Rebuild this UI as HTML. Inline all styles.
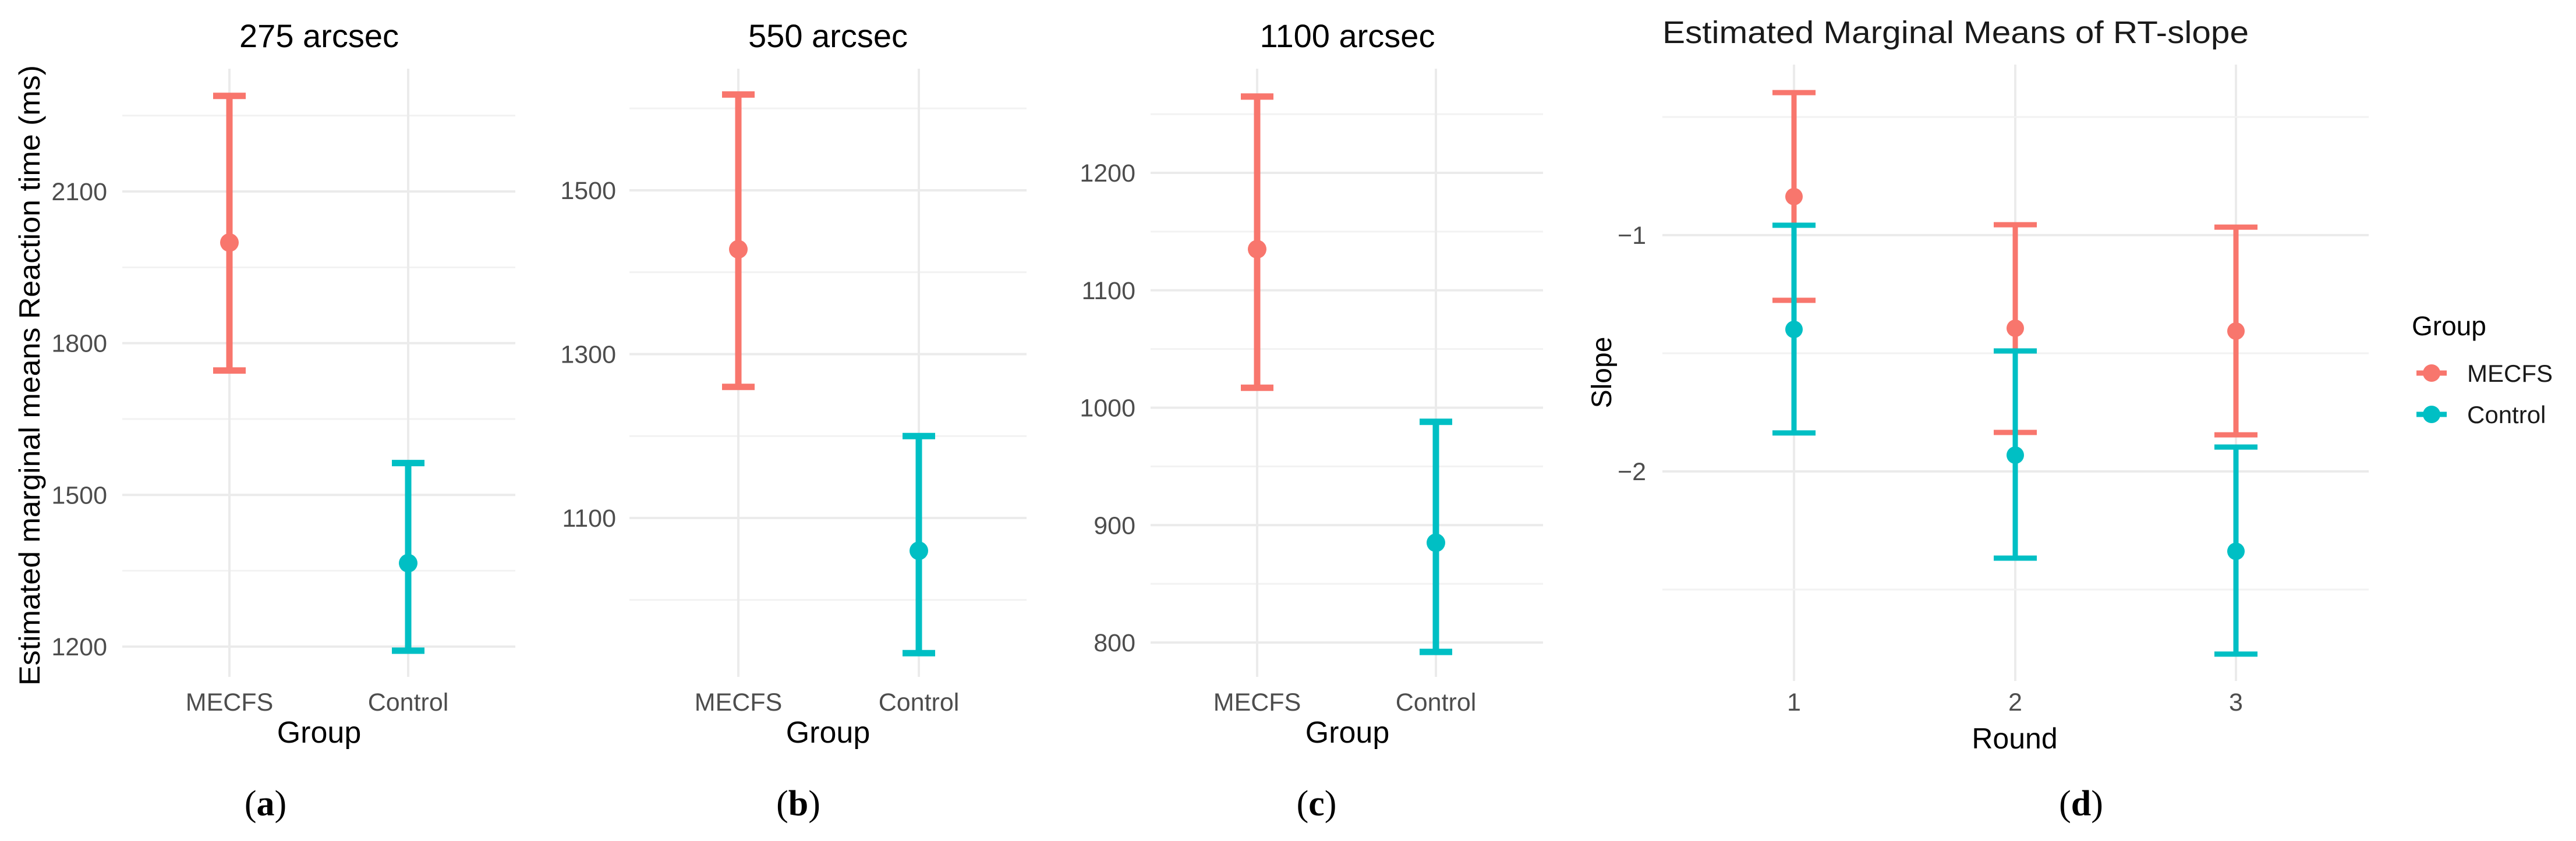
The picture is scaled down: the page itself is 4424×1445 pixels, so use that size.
<!DOCTYPE html>
<html><head><meta charset="utf-8"><style>
html,body{margin:0;padding:0;background:#fff}
svg{display:block;font-family:"Liberation Sans",sans-serif}
</style></head><body>
<svg id="fig" width="4424" height="1445" viewBox="0 0 4424 1445" xmlns="http://www.w3.org/2000/svg"></svg>
<script>
const groups = ["MECFS", "Control"];
const colors = ["#F8766D", "#00BFC4"];
// Panel a (275 arcsec)
const aTicks = [1200, 1500, 1800, 2100];
const aMean = [1999, 1365];
const aLow = [1746, 1192];
const aHigh = [2289, 1563];
// Panel b (550 arcsec)
const bTicks = [1100, 1300, 1500];
const bMean = [1428, 1060];
const bLow = [1260, 935];
const bHigh = [1617, 1200];
// Panel c (1100 arcsec)
const cTicks = [800, 900, 1000, 1100, 1200];
const cMean = [1135, 885];
const cLow = [792, 792];
const cHigh = [1265, 988];
cLow[0] = 1017;
// Panel d (RT-slope)
const rounds = ["1", "2", "3"];
const dTicks = [-2, -1];
const dMecfsMean = [-0.837, -1.394, -1.406];
const dMecfsLow = [-1.276, -1.835, -1.845];
const dMecfsHigh = [-0.397, -0.956, -0.966];
const dCtrlMean = [-1.399, -1.931, -2.338];
const dCtrlLow = [-1.837, -2.367, -2.773];
const dCtrlHigh = [-0.958, -1.49, -1.897];

const svg = document.getElementById('fig');
const NS = 'http://www.w3.org/2000/svg';
function el(tag, attrs, text) {
  const e = document.createElementNS(NS, tag);
  for (const k in attrs) e.setAttribute(k, attrs[k]);
  if (text !== undefined) e.textContent = text;
  svg.appendChild(e);
  return e;
}
function lin(v0, p0, v1, p1) { return v => p0 + (v - v0) * (p1 - p0) / (v1 - v0); }

function panel(o) {
  const y = o.y;
  // minor gridlines
  for (let i = 0; i < o.ticks.length + 1; i++) {
    const v = o.ticks[0] + (i - 0.5) * o.step;
    const py = y(v);
    if (py < o.top || py > o.bottom) continue;
    const g = el('line', {x1: o.x0, x2: o.x1, y1: py, y2: py, stroke: '#f2f2f2', 'stroke-width': 3});
    
    
  }
  o.ticks.forEach(t => {
    const py = y(t);
    const g = el('line', {x1: o.x0, x2: o.x1, y1: py, y2: py, stroke: '#ebebeb', 'stroke-width': 4});
    
    
    const lab = el('text', {x: o.tickX, y: py + 15, 'text-anchor': 'end', 'font-size': 43, fill: '#4d4d4d'}, o.fmt ? o.fmt(t) : String(t));
    
    
  });
  o.cats.forEach((c, i) => {
    const px = o.xs[i];
    const g = el('line', {x1: px, x2: px, y1: o.top, y2: o.bottom, stroke: '#ebebeb', 'stroke-width': 4});
    
    
    const lab = el('text', {x: px, y: 1221, 'text-anchor': 'middle', 'font-size': 43, fill: '#4d4d4d'}, c);
    
    
  });
}
function errbar(px, lo, hi, mean, color, y, cap, sw, r, name) {
  const g = document.createElementNS(NS, 'g');
  
  
  svg.appendChild(g);
  const add = (tag, a) => { const e = document.createElementNS(NS, tag); for (const k in a) e.setAttribute(k, a[k]); g.appendChild(e); };
  add('line', {x1: px, x2: px, y1: y(lo), y2: y(hi), stroke: color, 'stroke-width': sw});
  add('line', {x1: px - cap, x2: px + cap, y1: y(lo), y2: y(lo), stroke: color, 'stroke-width': sw});
  add('line', {x1: px - cap, x2: px + cap, y1: y(hi), y2: y(hi), stroke: color, 'stroke-width': sw});
  add('circle', {cx: px, cy: y(mean), r: r, fill: color});
}
function text(x, y, s, size, name, extra) {
  const a = Object.assign({x: x, y: y, 'font-size': size, fill: '#000'}, extra || {});
  const t = el('text', a, s);
  
  
  return t;
}

// ---- Panel a
const ya = lin(2100, 329, 1200, 1111);
const xa = [394, 701];
panel({y: ya, ticks: aTicks, step: 300, x0: 210, x1: 885, top: 118, bottom: 1163, tickX: 184, cats: groups, xs: xa});
groups.forEach((g, i) => errbar(xa[i], aLow[i], aHigh[i], aMean[i], colors[i], ya, 28, 11, 16, 'errorbar-a-' + g.toLowerCase()));
text(548, 81, '275 arcsec', 56, 'title-a', {'text-anchor': 'middle'});
text(0, 0, 'Estimated marginal means Reaction time (ms)', 50, 'y-axis-title', {'text-anchor': 'middle', transform: 'translate(68,645) rotate(-90)', textLength: 1066, lengthAdjust: 'spacingAndGlyphs'});
text(548, 1276, 'Group', 52, 'x-axis-title-a', {'text-anchor': 'middle'});

// ---- Panel b
const yb = lin(1500, 327, 1100, 890);
const xb = [1268, 1578];
panel({y: yb, ticks: bTicks, step: 200, x0: 1081, x1: 1763, top: 118, bottom: 1163, tickX: 1058, cats: groups, xs: xb});
groups.forEach((g, i) => errbar(xb[i], bLow[i], bHigh[i], bMean[i], colors[i], yb, 28, 11, 16, 'errorbar-b-' + g.toLowerCase()));
text(1422, 81, '550 arcsec', 56, 'title-b', {'text-anchor': 'middle'});
text(1422, 1276, 'Group', 52, 'x-axis-title-b', {'text-anchor': 'middle'});

// ---- Panel c
const yc = lin(1200, 297, 800, 1104);
const xc = [2159, 2466];
panel({y: yc, ticks: cTicks, step: 100, x0: 1976, x1: 2650, top: 118, bottom: 1163, tickX: 1950, cats: groups, xs: xc});
groups.forEach((g, i) => errbar(xc[i], cLow[i], cHigh[i], cMean[i], colors[i], yc, 28, 11, 16, 'errorbar-c-' + g.toLowerCase()));
text(2314, 81, '1100 arcsec', 56, 'title-c', {'text-anchor': 'middle'});
text(2314, 1276, 'Group', 52, 'x-axis-title-c', {'text-anchor': 'middle'});

// ---- Panel d
const yd = lin(-1, 404, -2, 810);
const xd = [3081, 3461, 3840];
panel({y: yd, ticks: dTicks, step: 1, x0: 2855, x1: 4068, top: 111, bottom: 1170, tickX: 2827, cats: rounds, xs: xd, fmt: t => '\u2212' + Math.abs(t)});
// extra minor line at -0.5 and -2.5
[-0.5, -2.5].forEach(v => {
  const g = el('line', {x1: 2855, x2: 4068, y1: yd(v), y2: yd(v), stroke: '#f2f2f2', 'stroke-width': 3});
  
  
});
rounds.forEach((r, i) => {
  errbar(xd[i], dMecfsLow[i], dMecfsHigh[i], dMecfsMean[i], colors[0], yd, 37, 9, 15, 'errorbar-d-mecfs-' + r);
  errbar(xd[i], dCtrlLow[i], dCtrlHigh[i], dCtrlMean[i], colors[1], yd, 37, 9, 15, 'errorbar-d-control-' + r);
});
text(2855, 74, 'Estimated Marginal Means of RT-slope', 54, 'title-d', {textLength: 1007, lengthAdjust: 'spacingAndGlyphs', fill: '#1a1a1a'});
text(0, 0, 'Slope', 48, 'y-axis-title-d', {'text-anchor': 'middle', transform: 'translate(2767,640) rotate(-90)'});
text(3460, 1286, 'Round', 50, 'x-axis-title-d', {'text-anchor': 'middle'});
// legend
text(4142, 576, 'Group', 46, 'legend-title');
groups.forEach((g, i) => {
  const ly = [641, 712][i];
  const k = el('line', {x1: 4150, x2: 4202, y1: ly, y2: ly, stroke: colors[i], 'stroke-width': 9});
  
  
  const c = el('circle', {cx: 4176, cy: ly, r: 15, fill: colors[i]});
  
  
  text(4237, ly + 15, g, 42, 'legend-entry-' + g.toLowerCase(), {fill: '#1a1a1a'});
});

// panel letters
[['(a)', 456], ['(b)', 1371], ['(c)', 2261], ['(d)', 3574]].forEach(([s, x], i) => {
  const t = el('text', {x: x, y: 1401, 'text-anchor': 'middle', 'font-size': 62, 'font-family': '"Liberation Serif",serif', fill: '#000'});
  
  
  const p1 = document.createElementNS(NS, 'tspan'); p1.textContent = '(';
  const p2 = document.createElementNS(NS, 'tspan'); p2.setAttribute('font-weight', 'bold'); p2.textContent = s[1];
  const p3 = document.createElementNS(NS, 'tspan'); p3.textContent = ')';
  t.appendChild(p1); t.appendChild(p2); t.appendChild(p3);
});
</script>
</body></html>
